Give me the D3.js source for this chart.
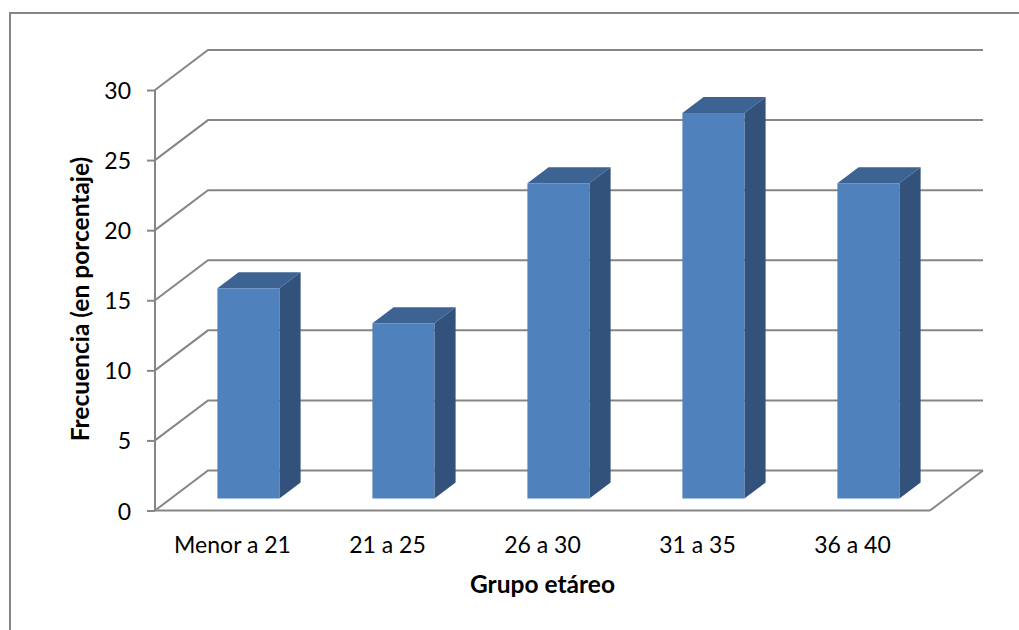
<!DOCTYPE html>
<html lang="es">
<head>
<meta charset="utf-8">
<script src="https://cdn.jsdelivr.net/npm/d3@7/dist/d3.min.js"></script>
<style>
html,body{margin:0;padding:0;background:#fff}
svg{display:block}
text{font-family:Lato,"Open Sans",sans-serif;fill:#000}
</style>
</head>
<body>
<svg id="chart" width="1019" height="630"></svg>
<script>
const categories = ["Menor a 21","21 a 25","26 a 30","31 a 35","36 a 40"];
const frequencies = [15,12.5,22.5,27.5,22.5];
const yTicks = [0,5,10,15,20,25,30];
const xTitle = "Grupo etáreo";
const yTitle = "Frecuencia (en porcentaje)";

const gridColor = "#868686";
const frontColor = "#4f81bd";
const sideColor = "#32527c";
const topColor = "#3c6392";

const svg = d3.select("#chart");
const W = 1019, H = 630;

// Plot box: front-left edge of the oblique projection
const x0 = 155, x1 = 930, yBase = 510.5, yTop = 90;
const depthX = 53, depthY = -40;           // full depth of the floor
const barNear = 0.3, barFar = 0.7;         // where the bars sit inside that depth

const x = d3.scaleBand().domain(categories).range([x0, x1]).paddingInner(0.6).paddingOuter(0.3);
const y = d3.scaleLinear().domain([0, 30]).range([yBase, yTop]);

// Projects a (category offset px, value, depth fraction) point to the screen
const project = (px, v, d) => [px + depthX * d, y(v) + depthY * d];
const line = d3.line();

// Outer chart frame, cut by the page edge on the right and bottom
svg.append("path")
  .attr("d", line([[10, H], [10, 13], [W, 13]]))
  .attr("fill", "none").attr("stroke", gridColor).attr("stroke-width", 2);

// Gridlines on the side wall and back wall
svg.append("g").selectAll("path").data(yTicks).join("path")
  .attr("d", t => line([project(x0, t, 0), project(x0, t, 1), project(x1, t, 1)]))
  .attr("fill", "none").attr("stroke", gridColor).attr("stroke-width", 2);

// Right edge of the floor
svg.append("path")
  .attr("d", line([project(x1, 0, 0), project(x1, 0, 1)]))
  .attr("fill", "none").attr("stroke", gridColor).attr("stroke-width", 2);

// Value axis
const yAxis = svg.append("g").attr("transform", `translate(${x0},0)`)
  .call(d3.axisLeft(y).tickValues(yTicks).tickSize(8).tickPadding(16).tickFormat(d3.format("d")));
yAxis.selectAll("path,line").attr("stroke", gridColor).attr("stroke-width", 2);
yAxis.select(".domain").attr("d", `M0,${y(30)}V${y(0)}`);
yAxis.selectAll("text").attr("font-size", 23).attr("dy", "0.37em")
  .style("font-family", "Lato,'Open Sans',sans-serif");

// Category axis: baseline only, labels underneath
const xAxis = svg.append("g").attr("transform", `translate(0,${yBase})`)
  .call(d3.axisBottom(x).tickSize(0).tickPadding(26.5));
xAxis.select(".domain").attr("d", `M${x0},0H${x1}`).attr("stroke", gridColor).attr("stroke-width", 2);
xAxis.selectAll("text").attr("font-size", 23).style("font-family", "Lato,'Open Sans',sans-serif");

// Bars: top and side faces first, front face over them
const bars = svg.append("g").selectAll("g")
  .data(categories.map((c, i) => ({c, v: frequencies[i]}))).join("g");

bars.append("path").attr("fill", topColor)
  .attr("d", d => {
    const l = x(d.c), r = l + x.bandwidth();
    return line([project(l, d.v, barNear), project(r, d.v, barNear), project(r, d.v, barFar), project(l, d.v, barFar)]) + "Z";
  });
bars.append("path").attr("fill", sideColor)
  .attr("d", d => {
    const r = x(d.c) + x.bandwidth();
    return line([project(r, 0, barNear), project(r, d.v, barNear), project(r, d.v, barFar), project(r, 0, barFar)]) + "Z";
  });
bars.append("path").attr("fill", frontColor)
  .attr("d", d => {
    const l = x(d.c), r = l + x.bandwidth();
    return line([project(l, 0, barNear), project(r, 0, barNear), project(r, d.v, barNear), project(l, d.v, barNear)]) + "Z";
  });

// Axis titles
svg.append("text").text(xTitle)
  .attr("x", 542.5).attr("y", 593).attr("text-anchor", "middle")
  .attr("font-size", 24.5).attr("font-weight", 700);
svg.append("text").text(yTitle)
  .attr("transform", "translate(89,299) rotate(-90)").attr("text-anchor", "middle")
  .attr("font-size", 24.5).attr("font-weight", 700);
</script>
</body>
</html>
